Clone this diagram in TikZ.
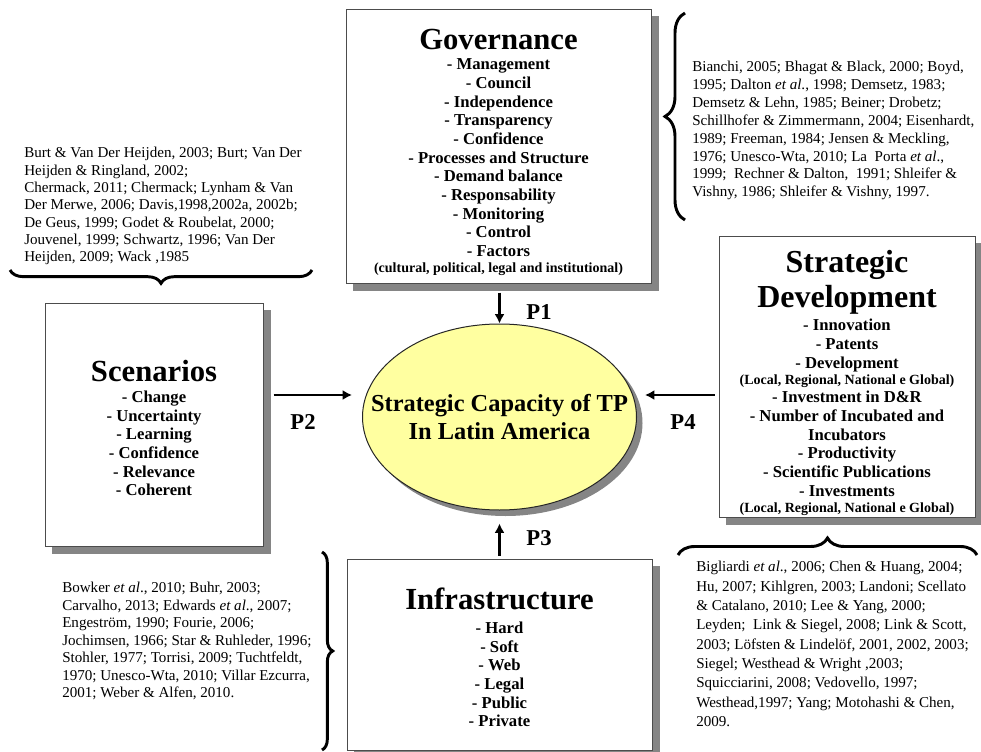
\documentclass[tikz,border=0pt]{standalone}
\usepackage{fontspec}
\setmainfont{Liberation Serif}
\usetikzlibrary{calc,backgrounds,arrows.meta,shapes.geometric,decorations.pathreplacing}
\definecolor{capyellow}{RGB}{255,255,160}

\tikzset{
  panel/.style={draw=black!70, fill=white, line width=0.75pt, inner sep=0pt},
  boxtitle/.style={font=\fontsize{23}{26}\selectfont\bfseries, inner sep=0pt, align=center},
  boxitems/.style={font=\fontsize{12.5}{14}\selectfont\bfseries, inner sep=0pt, align=center, anchor=north},
  refs/.style={font=\fontsize{11.3}{13.4}\selectfont, inner sep=0pt, align=left, anchor=north west},
  arr/.style={-{Latex[length=7pt,width=7.5pt]}, line width=2.2pt},
  plabel/.style={font=\fontsize{17}{17}\selectfont\bfseries, inner sep=0pt},
  dropshade/.style={fill=black!48},
  bracket/.style={decorate, decoration={brace, amplitude=#1}, line width=2.2pt},
}
\newcommand{\smallnote}{\fontsize{10.5}{12}\selectfont}

\begin{document}
\begin{tikzpicture}[x=0.75pt,y=0.75pt,yscale=-1,xscale=1]
        \useasboundingbox (0,0) rectangle (981,752);

        %Shape: Rectangle [governance]
        \node[panel, minimum width=228.75pt, minimum height=204.75pt] (gov) at (498.5,146.5) {};
        %Shape: Rectangle [scenarios]
        \node[panel, minimum width=163.5pt, minimum height=182.25pt] (scen) at (154,424.5) {};
        %Shape: Rectangle [strategic development]
        \node[panel, minimum width=192pt, minimum height=210pt] (strat) at (847,377) {};
        %Shape: Rectangle [infrastructure]
        \node[panel, minimum width=228.75pt, minimum height=143.25pt] (infra) at (499.5,654.5) {};
        %Shape: Ellipse [capacity]
        \node[ellipse, draw=black!85, fill=capyellow, line width=0.75pt, minimum width=205.5pt, minimum height=139.5pt, inner sep=0pt] (cap) at (499.5,417) {};

        % Drop shadows
        \begin{scope}[on background layer]
          \fill[dropshade] ($(gov.south west)+(7,7)$) rectangle ($(gov.north east)+(7,7)$);
          \fill[dropshade] ($(scen.south west)+(7,7)$) rectangle ($(scen.north east)+(7,7)$);
          \fill[dropshade] ($(strat.south west)+(7,7)$) rectangle ($(strat.north east)+(7,7)$);
          \fill[dropshade] ($(infra.south west)+(7,7)$) rectangle ($(infra.north east)+(7,7)$);
          \fill[dropshade] ($(cap.center)+(6,6)$) ellipse [x radius=102.75pt, y radius=69.75pt];
        \end{scope}

        % Text Node
        \node[boxtitle, anchor=base] (govtitle) at (498.5,50) {Governance};
        % Text Node
        \node[boxitems] (govitems) at (498.5,58.8) {- Management\\- Council\\- Independence\\- Transparency\\- Confidence\\- Processes and Structure\\- Demand balance\\- Responsability\\- Monitoring\\- Control\\- Factors\\[-2pt]{\smallnote (cultural, political, legal and institutional)}};

        % Text Node
        \node[boxtitle, anchor=base] (scentitle) at (154,381) {Scenarios};
        % Text Node
        \node[boxitems] (scenitems) at (154,390.7) {- Change\\- Uncertainty\\- Learning\\- Confidence\\- Relevance\\- Coherent};

        % Text Node
        \node[boxtitle, anchor=north, font=\fontsize{24}{26.25}\selectfont\bfseries] (strattitle) at (847,250.5) {Strategic\\Development};
        % Text Node
        \node[boxitems] (stratitems) at (847,319) {- Innovation\\- Patents\\- Development\\[-2pt]{\smallnote (Local, Regional, National e Global)}\\- Investment in D\&R\\- Number of Incubated and\\Incubators\\- Productivity\\- Scientific Publications\\- Investments\\[-2pt]{\smallnote (Local, Regional, National e Global)}};

        % Text Node
        \node[boxtitle, anchor=base] (infratitle) at (499.5,609) {Infrastructure};
        % Text Node
        \node[boxitems] (infraitems) at (499.5,621.7) {- Hard\\- Soft\\- Web\\- Legal\\- Public\\- Private};

        % Text Node
        \node[inner sep=0pt, align=center, font=\fontsize{18.3}{20.3}\selectfont\bfseries] (captext) at (cap.center) {Strategic Capacity of TP\\In Latin America};

        % Arrows
        \draw[arr] ($(gov.south)+(1,9)$) -- (cap.north);
        \draw[arr] ($(scen.east)+(10,-29.5)$) -- ($(cap.west)+(-10,-22)$);
        \draw[arr] ($(infra.north)+(0,-3)$) -- ($(cap.south)+(0,13)$);
        \draw[arr] ($(strat.west)+(-4,18)$) -- ($(cap.east)+(8,-22)$);

        % Text Node
        \node[plabel] (p1) at (539,312) {P1};
        \node[plabel] (p2) at (303,422) {P2};
        \node[plabel] (p3) at (539,538) {P3};
        \node[plabel] (p4) at (683,422) {P4};

        % References
        \node[refs] (govrefs) at (692,61) {Bianchi, 2005; Bhagat \& Black, 2000; Boyd,\\1995; Dalton \textit{et al}., 1998; Demsetz, 1983;\\Demsetz \& Lehn, 1985; Beiner; Drobetz;\\Schillhofer \& Zimmermann, 2004; Eisenhardt,\\1989; Freeman, 1984; Jensen \& Meckling,\\1976; Unesco-Wta, 2010; La\ \ Porta \textit{et al}.,\\1999;\ \ Rechner \& Dalton,\ \ 1991; Shleifer \&\\Vishny, 1986; Shleifer \& Vishny, 1997.};
        \node[refs, font=\fontsize{11.3}{13}\selectfont] (scenrefs) at (24,147) {Burt \& Van Der Heijden, 2003; Burt; Van Der\\Heijden \& Ringland, 2002;\\Chermack, 2011; Chermack; Lynham \& Van\\Der Merwe, 2006; Davis,1998,2002a, 2002b;\\De Geus, 1999; Godet \& Roubelat, 2000;\\Jouvenel, 1999; Schwartz, 1996; Van Der\\Heijden, 2009; Wack ,1985};
        \node[refs, font=\fontsize{11.3}{13.1}\selectfont] (infrarefs) at (62,582) {Bowker \textit{et al}., 2010; Buhr, 2003;\\Carvalho, 2013; Edwards \textit{et al}., 2007;\\Engeström, 1990; Fourie, 2006;\\Jochimsen, 1966; Star \& Ruhleder, 1996;\\Stohler, 1977; Torrisi, 2009; Tuchtfeldt,\\1970; Unesco-Wta, 2010; Villar Ezcurra,\\2001; Weber \& Alfen, 2010.};
        \node[refs, font=\fontsize{11.3}{14.5}\selectfont] (stratrefs) at (696,561) {Bigliardi \textit{et al}., 2006; Chen \& Huang, 2004;\\Hu, 2007; Kihlgren, 2003; Landoni; Scellato\\\& Catalano, 2010; Lee \& Yang, 2000;\\Leyden;\ \ Link \& Siegel, 2008; Link \& Scott,\\2003; Löfsten \& Lindelöf, 2001, 2002, 2003;\\Siegel; Westhead \& Wright ,2003;\\Squicciarini, 2008; Vedovello, 1997;\\Westhead,1997; Yang; Motohashi \& Chen,\\2009.};

        % Braces
        \draw[bracket=15pt] (685,220) -- (685,13);
        \draw[bracket=10pt] (312,270) -- (10,270);
        \draw[bracket=8pt] (322,552) -- (322,750);
        \draw[bracket=12.75pt] (678,555) -- (977,555);

\end{tikzpicture}
\end{document}
